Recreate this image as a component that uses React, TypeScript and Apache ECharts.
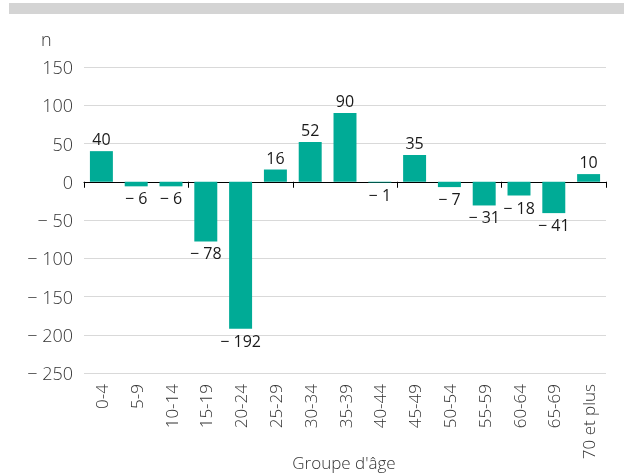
import React, { useEffect, useRef } from "react";
import * as echarts from "echarts";

const categories = ["0-4", "5-9", "10-14", "15-19", "20-24", "25-29", "30-34", "35-39", "40-44", "45-49", "50-54", "55-59", "60-64", "65-69", "70 et plus"];
const values = [40, -6, -6, -78, -192, 16, 52, 90, -1, 35, -7, -31, -18, -41, 10];
const yTicks = { min: -250, max: 150, interval: 50 };

const fmt = (v: number) => (v < 0 ? "\u2212 " + Math.abs(v) : String(v));
const FONT = "'Open Sans', 'Noto Sans', sans-serif";
const W = 300;

export default function App() {
  const ref = useRef<HTMLDivElement>(null);
  useEffect(() => {
    if (!ref.current) return;
    const chart = echarts.init(ref.current, undefined, { renderer: "svg" });
    chart.setOption({
      animation: false,
      textStyle: { fontFamily: FONT },
      grid: { left: 84, right: 18, top: 67, bottom: 101, containLabel: false },
      graphic: [
        { type: "rect", shape: { x: 9, y: 3, width: 615, height: 11 }, style: { fill: "#d4d4d4" } },
        { type: "text", left: 41, top: 30, style: { text: "n", fontSize: 18, fontWeight: W, fill: "#333", fontFamily: FONT } },
        { type: "text", x: 344, y: 462, style: { text: "Groupe d'âge", fontSize: 17, fontWeight: W, fill: "#333", fontFamily: FONT, align: "center", verticalAlign: "middle" } },
      ],
      xAxis: [
        {
          type: "category",
          data: categories,
          axisLine: { onZero: true, lineStyle: { color: "#000", width: 1 } },
          axisTick: { show: true, length: 6, lineStyle: { color: "#000" } },
          axisLabel: { show: false },
          splitLine: { show: false },
        },
        {
          type: "category",
          data: categories,
          position: "bottom",
          axisLine: { show: false, onZero: false },
          axisTick: { show: false },
          axisLabel: { rotate: 90, fontSize: 17, fontWeight: W, color: "#333", margin: 11, fontFamily: FONT },
        },
      ],
      yAxis: {
        type: "value",
        min: yTicks.min,
        max: yTicks.max,
        interval: yTicks.interval,
        axisLine: { show: false },
        axisTick: { show: false },
        axisLabel: { formatter: (v: number) => fmt(v), fontSize: 18, fontWeight: W, color: "#333", margin: 11, fontFamily: FONT },
        splitLine: { lineStyle: { color: "#d9d9d9", width: 1 } },
      },
      series: [
        {
          type: "bar",
          xAxisIndex: 0,
          data: values.map((v) => ({
            value: v,
            label: { position: v >= 0 ? "top" : "bottom" },
          })),
          barWidth: "66%",
          itemStyle: { color: "#00ab96" },
          label: {
            show: true,
            formatter: (p: any) => fmt(p.value),
            fontSize: 16,
            fontWeight: 400,
            color: "#1a1a1a",
            distance: 4,
            fontFamily: FONT,
          },
        },
      ],
    });
    return () => chart.dispose();
  }, []);
  return <div ref={ref} style={{ position: "fixed", left: 0, top: 0, width: 624, height: 474 }} />;
}
